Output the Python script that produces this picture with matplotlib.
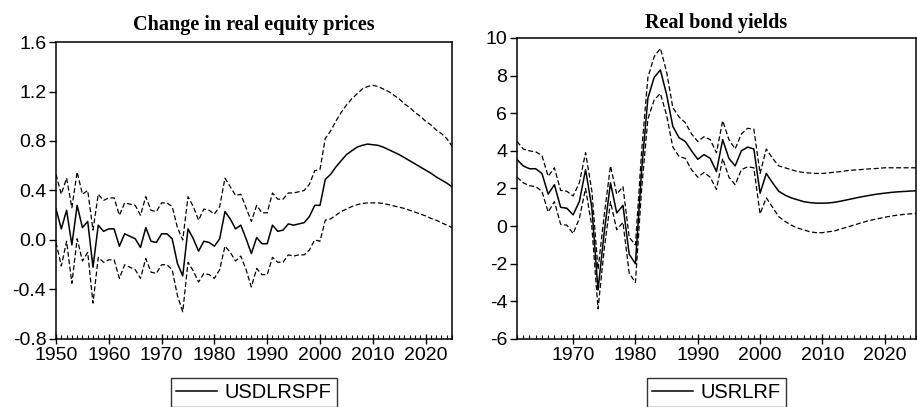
import numpy as np
import matplotlib
matplotlib.use("Agg")
import matplotlib.pyplot as plt
from matplotlib.ticker import MultipleLocator

# --- data ---
eq_years = list(range(1950, 2026))
eq_mid = [0.25, 0.09, 0.24, -0.04, 0.28, 0.10, 0.15, -0.22, 0.12, 0.07,
          0.09, 0.09, -0.05, 0.05, 0.03, 0.01, -0.06, 0.10, -0.01, -0.02,
          0.05, 0.05, 0.01, -0.19, -0.29, 0.09, 0.01, -0.09, -0.01, -0.02,
          -0.05, 0.01, 0.23, 0.17, 0.09, 0.12, 0.01, -0.11, 0.02, -0.03,
          -0.03, 0.12, 0.07, 0.08, 0.13, 0.12, 0.13, 0.14, 0.19, 0.28,
          0.28, 0.49, 0.53, 0.59, 0.64, 0.69, 0.72, 0.75, 0.765, 0.775,
          0.77, 0.765, 0.75, 0.73, 0.71, 0.69, 0.665, 0.64, 0.615, 0.59,
          0.565, 0.54, 0.51, 0.485, 0.46, 0.43]
eq_up = [0.53, 0.37, 0.50, 0.26, 0.55, 0.37, 0.40, 0.08, 0.37, 0.32,
         0.34, 0.34, 0.20, 0.30, 0.29, 0.28, 0.20, 0.35, 0.24, 0.23,
         0.30, 0.30, 0.27, 0.10, 0.00, 0.35, 0.27, 0.16, 0.25, 0.24,
         0.21, 0.27, 0.50, 0.43, 0.36, 0.37, 0.26, 0.15, 0.28, 0.22,
         0.22, 0.38, 0.33, 0.33, 0.38, 0.38, 0.39, 0.40, 0.45, 0.56,
         0.57, 0.82, 0.88, 0.96, 1.03, 1.09, 1.14, 1.18, 1.22, 1.24,
         1.25, 1.24, 1.22, 1.20, 1.17, 1.14, 1.10, 1.07, 1.03, 1.00,
         0.96, 0.93, 0.89, 0.86, 0.82, 0.76]
eq_lo = [-0.02, -0.21, -0.01, -0.35, 0.01, -0.17, -0.10, -0.51, -0.14, -0.18,
         -0.16, -0.16, -0.31, -0.20, -0.22, -0.24, -0.31, -0.15, -0.26, -0.27,
         -0.20, -0.20, -0.24, -0.45, -0.58, -0.18, -0.25, -0.34, -0.27, -0.28,
         -0.31, -0.24, -0.05, -0.10, -0.17, -0.13, -0.24, -0.38, -0.23, -0.28,
         -0.28, -0.14, -0.18, -0.18, -0.12, -0.13, -0.12, -0.12, -0.08, 0.00,
         -0.01, 0.16, 0.17, 0.20, 0.23, 0.25, 0.27, 0.285, 0.295, 0.30,
         0.30, 0.30, 0.295, 0.285, 0.275, 0.265, 0.255, 0.24, 0.225, 0.21,
         0.195, 0.175, 0.16, 0.14, 0.12, 0.10]

bd_years = list(range(1961, 2026))
bd_mid = [3.54, 3.2, 3.05, 3.05, 2.8, 1.7, 2.2, 1.0, 0.95, 0.6,
          1.3, 3.0, 1.0, -3.4, -0.3, 2.3, 0.7, 1.1, -1.5, -2.0,
          3.0, 6.8, 7.9, 8.3, 7.0, 5.3, 4.7, 4.5, 4.0, 3.55,
          3.8, 3.6, 2.9, 4.6, 3.6, 3.2, 4.0, 4.2, 4.1, 1.75,
          2.8, 2.3, 1.85, 1.65, 1.5, 1.4, 1.3, 1.25, 1.22, 1.22,
          1.23, 1.27, 1.33, 1.4, 1.47, 1.54, 1.6, 1.66, 1.71, 1.75,
          1.79, 1.82, 1.84, 1.86, 1.88]
bd_up = [4.5, 4.1, 4.0, 3.95, 3.75, 2.65, 3.1, 1.9, 1.85, 1.6,
         2.3, 3.9, 1.9, -2.3, 0.6, 3.2, 1.7, 2.1, -0.6, -1.0,
         4.0, 7.9, 9.0, 9.45, 8.2, 6.3, 5.8, 5.5, 4.9, 4.5,
         4.75, 4.6, 3.9, 5.6, 4.6, 4.1, 4.9, 5.2, 5.15, 2.8,
         4.1, 3.6, 3.2, 3.1, 3.0, 2.9, 2.85, 2.82, 2.8, 2.8,
         2.83, 2.87, 2.9, 2.95, 2.98, 3.0, 3.03, 3.05, 3.07, 3.1,
         3.1, 3.1, 3.1, 3.1, 3.1]
bd_lo = [2.6, 2.3, 2.15, 2.1, 1.85, 0.75, 1.3, 0.1, 0.05, -0.4,
         0.4, 2.0, 0.0, -4.4, -1.2, 1.3, -0.2, 0.2, -2.5, -3.0,
         2.0, 5.7, 6.7, 7.05, 5.9, 4.2, 3.7, 3.6, 3.0, 2.6,
         2.85, 2.6, 1.95, 3.6, 2.6, 2.2, 3.0, 3.15, 3.1, 0.65,
         1.5, 1.0, 0.5, 0.25, 0.05, -0.1, -0.2, -0.3, -0.35, -0.35,
         -0.3, -0.25, -0.15, -0.05, 0.05, 0.15, 0.25, 0.33, 0.4, 0.47,
         0.53, 0.58, 0.62, 0.65, 0.67]

plt.rcParams["font.family"] = ["Liberation Sans", "DejaVu Sans"]
plt.rcParams["axes.unicode_minus"] = False

fig = plt.figure(figsize=(9.17, 4.07), dpi=100)
ax1 = fig.add_axes([0.0611, 0.1671, 0.4318, 0.7297])
ax2 = fig.add_axes([0.5638, 0.1671, 0.4350, 0.7396])

dash = (0, (4, 2))


def style(ax, x0, x1, title, tpad):
    ax.set_xlim(x0, x1)
    ax.xaxis.set_major_locator(MultipleLocator(10))
    ax.xaxis.set_minor_locator(MultipleLocator(1))
    ax.tick_params(axis="x", which="major", direction="inout", length=7, width=1, labelsize=14, pad=2)
    ax.tick_params(axis="x", which="minor", direction="in", length=3, width=0.8)
    ax.tick_params(axis="y", direction="out", length=5, width=1, labelsize=14, pad=2)
    for s in ax.spines.values():
        s.set_linewidth(1.1)
    ax.set_title(title, fontsize=14.5, fontweight="bold", family="Liberation Serif", pad=tpad)


ax1.plot(eq_years, eq_mid, color="black", lw=1.1, label="USDLRSPF")
ax1.plot(eq_years, eq_up, color="black", lw=0.9, ls=dash)
ax1.plot(eq_years, eq_lo, color="black", lw=0.9, ls=dash)
style(ax1, 1950, 2025, "Change in real equity prices", 9)
ax1.set_ylim(-0.8, 1.6)
ax1.set_yticks(np.arange(-0.8, 1.61, 0.4))
ax1.set_yticklabels(["-0.8", "-0.4", "0.0", "0.4", "0.8", "1.2", "1.6"])

ax2.plot(bd_years, bd_mid, color="black", lw=1.1, label="USRLRF")
ax2.plot(bd_years, bd_up, color="black", lw=0.9, ls=dash)
ax2.plot(bd_years, bd_lo, color="black", lw=0.9, ls=dash)
style(ax2, 1961, 2025, "Real bond yields", 7)
ax2.set_ylim(-6, 10)
ax2.set_yticks(range(-6, 11, 2))

for ax in (ax1, ax2):
    leg = ax.legend(loc="upper center", bbox_to_anchor=(0.5, -0.13), fontsize=14.5,
                    frameon=True, fancybox=False, handlelength=2.0, handletextpad=0.4,
                    borderpad=0.25, borderaxespad=0)
    leg.get_frame().set_edgecolor("black")
    leg.get_frame().set_linewidth(1.0)

fig.savefig("out.png", dpi=100)
